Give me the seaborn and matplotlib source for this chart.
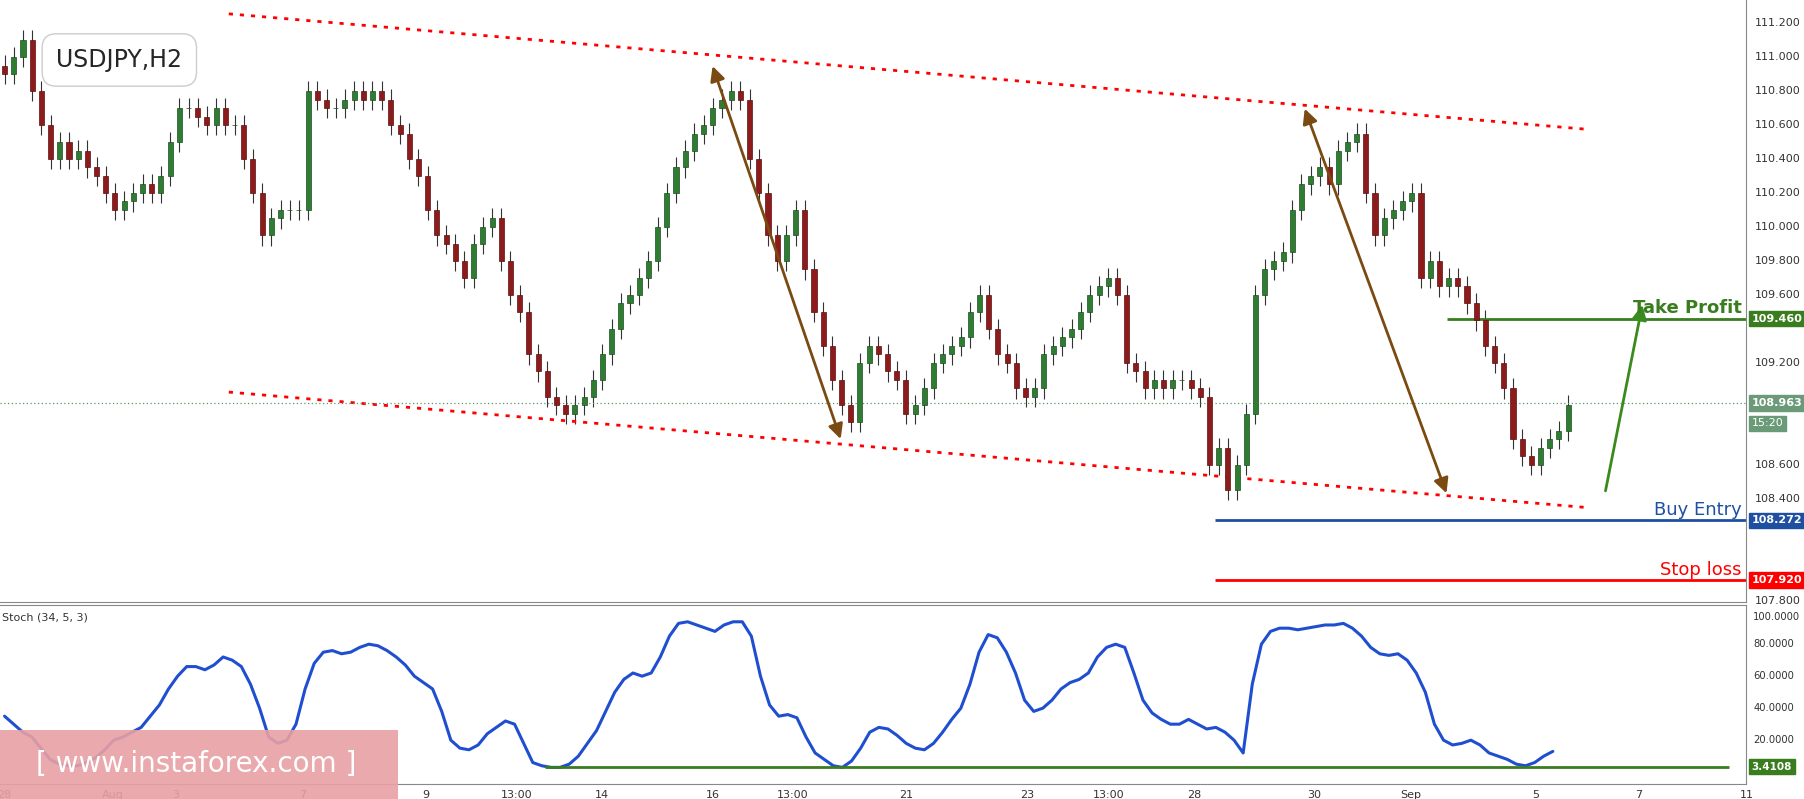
import numpy as np
import pandas as pd
import matplotlib
matplotlib.use("Agg")
import matplotlib.pyplot as plt
import seaborn as sns

closes = [110.9,111.0,111.1,110.8,110.6,110.4,110.5,110.4,110.45,110.35,110.3,110.2,110.1,110.15,110.2,110.25,110.2,110.3,110.5,110.7,
110.7,110.65,110.6,110.7,110.6,110.6,110.4,110.2,109.95,110.05,110.1,110.1,110.1,110.8,110.75,110.7,110.7,110.75,110.8,110.75,
110.8,110.75,110.6,110.55,110.4,110.3,110.1,109.95,109.9,109.8,109.7,109.9,110.0,110.05,109.8,109.6,109.5,109.25,109.15,109.0,
108.95,108.9,108.95,109.0,109.1,109.25,109.4,109.55,109.6,109.7,109.8,110.0,110.2,110.35,110.45,110.55,110.6,110.7,110.75,110.8,
110.75,110.4,110.2,109.95,109.8,109.95,110.1,109.75,109.5,109.3,109.1,108.95,108.85,109.2,109.3,109.25,109.15,109.1,108.9,108.95,
109.05,109.2,109.25,109.3,109.35,109.5,109.6,109.4,109.25,109.2,109.05,109.0,109.05,109.25,109.3,109.35,109.4,109.5,109.6,109.65,
109.7,109.6,109.2,109.15,109.05,109.1,109.05,109.1,109.1,109.05,109.0,108.6,108.7,108.45,108.6,108.9,109.6,109.75,109.8,109.85,
110.1,110.25,110.3,110.35,110.25,110.45,110.5,110.55,110.2,109.95,110.05,110.1,110.15,110.2,109.7,109.8,109.65,109.7,109.65,109.55,
109.45,109.3,109.2,109.05,108.75,108.65,108.6,108.7,108.75,108.8,108.95]

stoch = [35,30,25,22,15,8,5,4,4,6,9,14,20,22,25,28,35,42,52,60,66,66,64,67,72,70,66,55,40,22,18,20,30,52,68,75,76,74,75,78,
80,79,76,72,67,60,56,52,38,20,15,14,17,24,28,32,30,18,6,4,3,3,5,10,18,26,38,50,58,62,60,62,72,85,93,94,92,90,88,92,
94,94,85,60,42,35,36,34,22,12,8,4,3,7,15,25,28,27,23,18,15,14,18,25,33,40,55,75,86,84,75,62,45,38,40,45,52,56,58,62,
72,78,80,78,62,45,37,33,30,30,33,30,27,28,25,20,12,55,80,88,90,90,89,90,91,92,92,93,90,85,78,74,73,74,70,62,50,30,20,17,
18,20,17,12,10,8,5,4,6,10,13]

date_labels = ["28","Aug","3","7","9","13:00","14","16","13:00","21","23","13:00","28","30","Sep","5","7","11"]
date_px = [0,95,150,262,370,450,525,622,692,792,898,970,1045,1150,1235,1345,1435,1530]

take_profit, buy_entry, stop_loss, last_price, stoch_level = 109.460, 108.272, 107.920, 108.963, 3.4108

W, H = 1804, 799
fig = plt.figure(figsize=(W/100, H/100), dpi=100)
sns.set_style("white")
plt.rcParams['font.family'] = ['DejaVu Sans']

axw = 1515/1565
ax = fig.add_axes([0, 1-522/693, axw, 522/693])
ax2 = fig.add_axes([0, 1-680/693, axw, 155/693])

def X(px): return px/8
def P(py): return 111.336 - py/147.3

n = min(len(closes), len(stoch))
idx = np.arange(n)
c = np.array(closes[:n])
o = np.r_[c[0]+0.05, c[:-1]]
up = c >= o
hi = np.maximum(o, c) + 0.06
lo = np.minimum(o, c) - 0.06
ax.vlines(idx, lo, hi, color="#333333", lw=0.8, zorder=2)
ax.bar(idx[up], (c-o)[up], bottom=o[up], width=0.55, color="#2f7d32", edgecolor="#1b4d1e", lw=0.5, zorder=3)
ax.bar(idx[~up], (o-c)[~up], bottom=c[~up], width=0.55, color="#8e1b1b", edgecolor="#5a1010", lw=0.5, zorder=3)

xmax = 1515/8
ax.set_xlim(-0.5, xmax)
ax.set_ylim(107.793, 111.336)
ax2.set_xlim(-0.5, xmax)
ax2.set_ylim(-7.4, 104.3)

for (x1,y1,x2,y2) in [(195,12,1375,112),(195,340,1375,440)]:
    ax.plot([X(x1),X(x2)],[P(y1),P(y2)], ls=(0,(1.5,2.5)), color="red", lw=2)
for (x1,y1,x2,y2) in [(615,55,728,383),(1130,92,1255,430)]:
    ax.annotate("", xy=(X(x2),P(y2)), xytext=(X(x1),P(y1)),
                arrowprops=dict(arrowstyle="<|-|>", color="#7a4a12", lw=2, mutation_scale=22))
ax.annotate("", xy=(X(1425),P(262)), xytext=(X(1392),P(428)),
            arrowprops=dict(arrowstyle="-|>", color="#3a8a1e", lw=2, mutation_scale=22))

ax.axhline(last_price, color="#5a9a6a", ls=(0,(1,2)), lw=0.9)
ax.hlines(take_profit, X(1255), xmax, color="#3a7d1e", lw=2)
ax.hlines(buy_entry, X(1053), xmax, color="#1f4fa0", lw=2)
ax.hlines(stop_loss, X(1053), xmax, color="red", lw=2)
ax.text(xmax-0.5, take_profit+0.01, "Take Profit", color="#3a7d1e", ha="right", va="bottom", fontsize=13, fontweight="bold")
ax.text(xmax-0.5, buy_entry+0.01, "Buy Entry", color="#1f4fa0", ha="right", va="bottom", fontsize=13)
ax.text(xmax-0.5, stop_loss+0.01, "Stop loss", color="red", ha="right", va="bottom", fontsize=13)

rng = 111.336-107.793
boxes = [(take_profit,"#3a7d1e"),(last_price,"#6a9a78"),(buy_entry,"#1f4fa0"),(stop_loss,"red")]
yt = np.round(np.arange(107.8, 111.21, 0.2), 1)
for v in yt:
    if any(abs(v-b) < 0.09 for b,_ in boxes) or abs(v-(last_price-0.12)) < 0.09:
        continue
    ax.text(1.005, (v-107.793)/rng, f"{v:.3f}", transform=ax.transAxes, fontsize=8, va="center", ha="left", color="#333")
for v, col in boxes:
    ax.text(1.003, (v-107.793)/rng, f"{v:.3f}", transform=ax.transAxes, fontsize=8, va="center", ha="left",
            color="white", fontweight="bold", bbox=dict(boxstyle="square,pad=0.25", fc=col, ec=col))
ax.text(1.003, (last_price-0.12-107.793)/rng, "15:20", transform=ax.transAxes, fontsize=8, va="center",
        color="white", bbox=dict(boxstyle="square,pad=0.25", fc="#6a9a78", ec="#6a9a78"))
ax.text(X(45), P(52), "USDJPY,H2", fontsize=17, va="center", ha="left",
        bbox=dict(boxstyle="round,pad=0.6", fc="white", ec="#cccccc"))

df = pd.DataFrame({"i": idx, "k": stoch[:n]})
sns.lineplot(data=df, x="i", y="k", ax=ax2, color="#1f4fd0", lw=2.2)
ax2.hlines(stoch_level, X(475), xmax, color="#3a7d1e", lw=2)
for v in [20,40,60,80,100]:
    ax2.text(1.004, (v+7.4)/111.7, f"{v:.4f}", transform=ax2.transAxes, fontsize=7.2,
             va="top" if v == 100 else "center", color="#333")
ax2.text(1.003, (stoch_level+7.4)/111.7, f"{stoch_level:.4f}", transform=ax2.transAxes, fontsize=7.5, va="center",
         color="white", fontweight="bold", bbox=dict(boxstyle="square,pad=0.25", fc="#3a7d1e", ec="#3a7d1e"))
ax2.text(0.001, 0.93, "Stoch (34, 5, 3)", transform=ax2.transAxes, fontsize=8, color="#333", va="center")
ax2.set_xticks([X(p) for p in date_px])
ax2.set_xticklabels(date_labels, fontsize=8, color="#333")
ax2.tick_params(axis="x", length=0, pad=4)
ax2.set_yticks([]); ax2.set_xlabel(""); ax2.set_ylabel("")
ax.set_xticks([]); ax.set_yticks([])
for a in (ax, ax2):
    for s in a.spines.values():
        s.set_color("#888888"); s.set_linewidth(0.8)
    a.spines["top"].set_visible(False); a.spines["left"].set_visible(False)
ax2.spines["top"].set_visible(True)
fig.patches.append(plt.Rectangle((0, 0), 345/1565, 60/693, transform=fig.transFigure, fc="#e8a0a4", ec="none", alpha=0.9))
fig.text(170/1565, 30/693, "[ www.instaforex.com ]", ha="center", va="center", fontsize=20, color="white")
fig.savefig("out.png", dpi=100)
